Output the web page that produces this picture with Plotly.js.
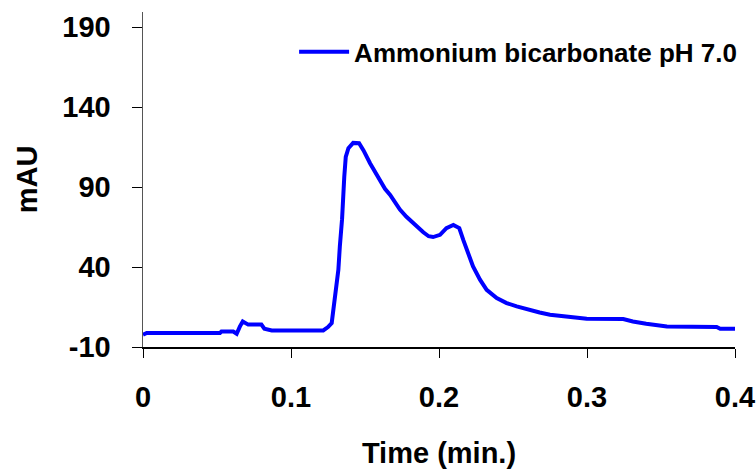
<!DOCTYPE html>
<html>
<head>
<meta charset="utf-8">
<script src="https://cdn.plot.ly/plotly-3.0.1.min.js"></script>
<style>html,body{margin:0;padding:0;background:#fff;}#chart{width:756px;height:469px;}</style>
</head>
<body>
<div id="chart"></div>
<script>
var seriesName = "Ammonium bicarbonate pH 7.0";
var timeMin = [0, 0.0025, 0.052, 0.053, 0.061, 0.0633, 0.0655, 0.0674, 0.0711, 0.080, 0.082, 0.087,
  0.1218, 0.125, 0.1275, 0.1297, 0.132, 0.133, 0.1345, 0.136, 0.137, 0.1388, 0.142, 0.146, 0.149,
  0.1534, 0.157, 0.160, 0.1635, 0.167, 0.170, 0.1736, 0.178, 0.1826, 0.1894, 0.193, 0.196, 0.2007, 0.205, 0.2097, 0.2137, 0.2164, 0.2187,
  0.223, 0.2277, 0.2322, 0.239, 0.2457, 0.2525, 0.2615, 0.268, 0.275, 0.284, 0.2998, 0.3245, 0.331,
  0.340, 0.354, 0.3876, 0.39, 0.401];
var mAU = [-2.3, -1.2, -1.2, -0.3, -0.3, -1.7, 2.9, 6.0, 4.0, 4.0, 1.4, 0.4,
  0.4, 2.5, 5.0, 23.7, 38.3, 52.9, 70, 96.6, 109, 114.4, 117.7, 117.5, 113,
  105, 99, 94, 89, 85.2, 80.5, 76, 71.5, 67.4, 61.8, 59.3, 58.8, 60.2, 64.4, 66.4, 64.4, 57, 50.8,
  40.4, 32.1, 25.8, 20.6, 17.5, 15.4, 12.9, 11.6, 10.2, 9.1, 7.7, 7.5, 6.0,
  4.6, 2.9, 2.5, 1.4, 1.4];
var xTicks = [0, 0.1, 0.2, 0.3, 0.4];
var xTickText = ["0", "0.1", "0.2", "0.3", "0.4"];
var yTicks = [-10, 40, 90, 140, 190];
var yTickText = ["-10", "40", "90", "140", "190"];

var font = "Liberation Sans, Arial, sans-serif";
var trace = {
  x: timeMin, y: mAU, type: "scatter", mode: "lines", name: seriesName,
  line: {color: "#0000FF", width: 4}
};
var layout = {
  width: 756, height: 469,
  margin: {l: 143, r: 21, t: 12, b: 122},
  paper_bgcolor: "#fff", plot_bgcolor: "#fff",
  font: {family: font, color: "#000"},
  showlegend: true,
  legend: {x: 1.012, xanchor: "right", y: 0.951, yanchor: "top", bgcolor: "rgba(0,0,0,0)",
    font: {family: font, size: 26, color: "#000", weight: "bold"}, itemwidth: 50},
  xaxis: {
    range: [0, 0.4], tickvals: xTicks, ticktext: xTickText, showgrid: false, zeroline: false,
    showline: true, linecolor: "#000", linewidth: 1.5, ticks: "outside", ticklen: 9, tickcolor: "#000",
    tickfont: {family: font, size: 29, weight: "bold"}, ticklabelstandoff: 15,
    title: {text: "Time (min.)", font: {family: font, size: 29, weight: "bold"}, standoff: 30}
  },
  yaxis: {
    range: [-10, 199.6], tickvals: yTicks, ticktext: yTickText, showgrid: false, zeroline: false,
    showline: true, linecolor: "#555", linewidth: 1.5, ticks: "outside", ticklen: 10, tickcolor: "#000",
    tickfont: {family: font, size: 29, weight: "bold"}, ticklabelstandoff: 15,
    title: {text: "mAU", font: {family: font, size: 29, weight: "bold"}, standoff: 16}
  }
};
Plotly.newPlot("chart", [trace], layout, {displayModeBar: false, staticPlot: true});
</script>
</body>
</html>
